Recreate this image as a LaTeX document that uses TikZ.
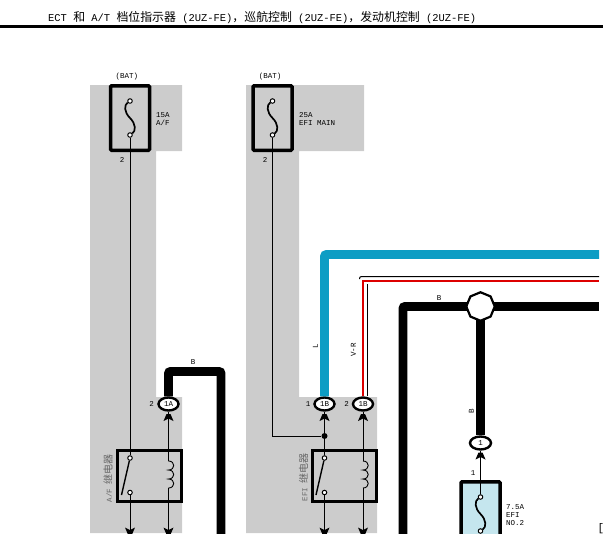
\documentclass[tikz,border=0pt]{standalone}
\usepackage{fontspec}
\setmainfont{Liberation Mono}
\newfontfamily\cjk{Noto Sans CJK SC}
\usetikzlibrary{calc,shapes.geometric}
\definecolor{zonegray}{HTML}{CCCCCC}
\definecolor{wireblue}{HTML}{0C9DC4}
\definecolor{wirered}{HTML}{DD0000}
\definecolor{fuseblue}{HTML}{C5E6EE}
\newcommand{\hanzi}[1]{{\fontsize{11.9}{12}\selectfont\cjk #1}}
\tikzset{
  lbl/.style={inner sep=0pt, font=\fontsize{7.5}{8}\selectfont},
  zone/.style={fill=zonegray, draw=none},
  fusebox/.style={draw, rounded corners=1pt, line width=3.5pt, minimum width=39pt, minimum height=64.5pt, inner sep=0pt},
  relaybox/.style={draw, line width=3pt, minimum width=64pt, minimum height=51pt, inner sep=0pt},
  term/.style={circle, draw, fill=white, line width=1pt, minimum size=4.5pt, inner sep=0pt},
  plug/.style={ellipse, draw, fill=white, line width=2.4pt, minimum width=20pt, minimum height=13pt, inner sep=0pt, font=\fontsize{7.5}{8}\selectfont},
  thin wire/.style={line width=1pt},
  fat wire/.style={line width=8.8pt, rounded corners=2pt},
  barb/.pic={\fill (-2,-3.5) -- (2,-3.5) -- (5,3.5) -- (0,1) -- (-5,3.5) -- cycle;},
  coil/.pic={\draw[line width=0.9pt] (0,0) .. controls +(7,0) and +(7,0) .. ++(0,9)
    .. controls +(7,0) and +(7,0) .. ++(0,9) .. controls +(7,0) and +(7,0) .. ++(0,9);}
}
\begin{document}
\begin{tikzpicture}[x=1pt, y=-1pt]
  \useasboundingbox (0,0) rectangle (603,536);
  \clip (0,0) rectangle (603,533);

  % Grey zones
  \fill[zone] (90,85) -| (182,151) -| (156,397) -| (182,533) -| (90,85) -- cycle;
  \fill[zone] (246,85) -| (364,151) -| (299,397) -| (377,533) -| (246,85) -- cycle;

  % Header
  \node[anchor=west, inner sep=0pt, font=\fontsize{10.45}{12}\selectfont] (title) at (48,18)
    {ECT \hanzi{和} A/T \hanzi{档位指示器} (2UZ-FE)\hanzi{，巡航控制} (2UZ-FE)\hanzi{，发动机控制} (2UZ-FE)};
  \coordinate (ruleL) at (0,26.5);
  \coordinate (ruleR) at (603,26.5);
  \draw[line width=3pt] (ruleL) -- (ruleR);

  % Fuses
  \foreach \n/\x/\y/\c in {A/130/118/none, B/272.5/118/none, C/480.5/514/fuseblue} {
    \node[fusebox, fill=\c] (fuse\n) at (\x,\y) {};
    \node[term] (top\n) at (\x,\y-17) {};
    \node[term] (bot\n) at (\x,\y+17) {};
    \draw[line width=1.7pt] (top\n) .. controls +(-6,4) and +(-6,-6) .. (\x,\y)
      .. controls +(6,6) and +(6,-4) .. (bot\n);
  }

  % Relays
  \foreach \n/\x/\s/\k in {A/149/130/168.5, B/344/324.5/363} {
    \node[relaybox] (relay\n) at (\x,475.5) {};
    \node[term] (on\n) at (\s,458) {};
    \node[term] (off\n) at (\s,492.5) {};
    \coordinate (blade\n) at (\s-8.5,495);
    \draw[line width=1.4pt] (on\n) -- (blade\n);
    \coordinate (coiltop\n) at (\k,461);
    \coordinate (coilbot\n) at (\k,488);
    \pic at (coiltop\n) {coil};
    \coordinate (endon\n) at (\s,534);
    \coordinate (endcoil\n) at (\k,534);
    \draw[thin wire] (off\n) -- (endon\n);
    \draw[thin wire] (coilbot\n) -- (endcoil\n);
    \pic[rotate=180] at (\s,531) {barb};
    \pic[rotate=180] at (\k,531) {barb};
  }

  % Connectors
  \node[plug] (plugA) at (168.5,404) {1A};
  \node[plug] (plugB) at (324.5,404) {1B};
  \node[plug] (plugC) at (363,404) {1B};
  \node[plug, minimum width=21pt] (plugD) at (480.5,443) {1};
  \foreach \p/\x/\y in {A/168.5/417.5, B/324.5/417.5, C/363/417.5, D/480.5/456}
    \pic at (\x,\y) {barb};

  % Junctions
  \node[regular polygon, regular polygon sides=8, shape border rotate=22.5, draw, fill=white,
    line width=2.2pt, outer sep=0pt, minimum size=28.5pt, inner sep=0pt] (joint) at (480.5,306.5) {};
  \node[circle, fill, minimum size=6pt, inner sep=0pt] (dot) at (324.5,436) {};

  % Thin wires
  \draw[thin wire] (botA) -- (onA);
  \draw[thin wire] (plugA) -- (coiltopA);
  \draw[thin wire] (botB) |- (dot);
  \draw[thin wire] (plugB) -- (onB);
  \draw[thin wire] (plugC) -- (coiltopB);
  \draw[thin wire] (plugD) -- (topC);

  % Fat wires
  \coordinate (fatA) at (221,534);
  \coordinate (blueR) at (599,254.5);
  \coordinate (blackR) at (599,306.5);
  \coordinate (blackB) at (403,534);
  \draw[fat wire] (plugA.north) |- (221,371.5) -- (fatA);
  \draw[fat wire, wireblue] (plugB.north) |- (blueR);
  \draw[fat wire, shorten <=-1pt] (joint.west) -| (blackB);
  \draw[fat wire, shorten <=-1pt] (joint.east) -- (blackR);
  \draw[fat wire, shorten <=-1pt] (joint.south) -- (plugD.north);

  % Striped wire
  \coordinate (redR) at (599,281);
  \coordinate (stripeR) at (599,276.5);
  \coordinate (stripeL) at (359.5,279);
  \coordinate (stripeT) at (367,284);
  \coordinate (stripeB) at ($(plugC.north)+(4,0)$);
  \draw[line width=2pt, wirered] (plugC.north) |- (redR);
  \draw[line width=1pt, rounded corners=2pt] (stripeL) |- (stripeR);
  \draw[line width=1pt] (stripeT) -- (stripeB);

  % Labels
  \foreach \n/\x/\t in {batA/127/(BAT), batB/270/(BAT)}
    \node[lbl] (\n) at (\x,77) {\t};
  \node[lbl, anchor=west, align=left] (ampA) at (156,119) {15A\\A/F};
  \node[lbl, anchor=west, align=left] (ampB) at (299,119) {25A\\EFI MAIN};
  \node[lbl, anchor=west, align=left] (ampC) at (506,515.5) {7.5A\\EFI\\NO.2};
  \foreach \n/\x/\y/\t in {pinA/122/160/2, pinB/265/160/2, pinC/151.5/404/2, pinD/308/404/1, pinE/346.5/404/2, pinF/473/473/1, wireA/193/362.5/B, wireB/439/298/B}
    \node[lbl] (\n) at (\x,\y) {\t};
  \foreach \n/\x/\y/\t in {wireC/315.5/346/L, wireD/353.5/350/V-R, wireE/471.5/411/B}
    \node[lbl, rotate=90] (\n) at (\x,\y) {\t};
  \node[lbl, rotate=90, text=black!60] (nameA) at (108,478) {A/F {\fontsize{10}{12}\selectfont\cjk 继电器}};
  \node[lbl, rotate=90, text=black!60] (nameB) at (303.5,477) {EFI {\fontsize{10}{12}\selectfont\cjk 继电器}};
  \node[lbl, font=\fontsize{11}{12}\selectfont] (edge) at (601,529) {[};
\end{tikzpicture}
\end{document}
